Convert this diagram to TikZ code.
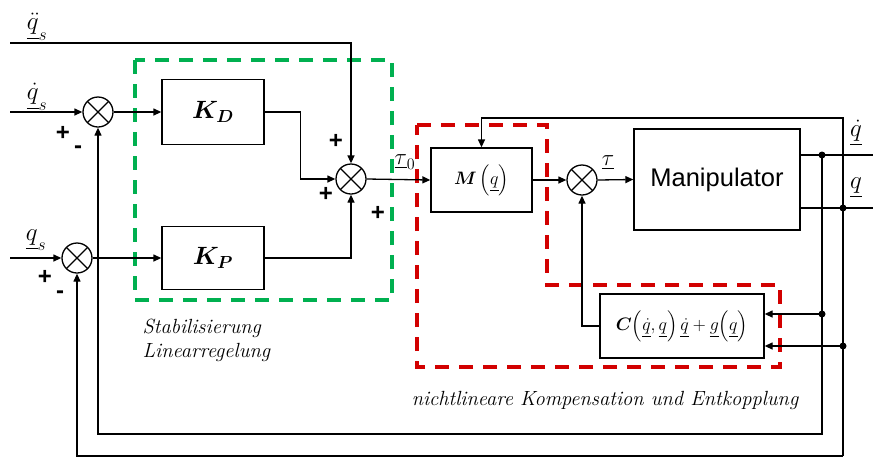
\RequirePackage{fix-cm}
\documentclass[tikz,border=0pt]{standalone}
\usepackage{amsmath,bm}
\usepackage{fontspec}
\newfontfamily\arialf{Liberation Sans}
\usetikzlibrary{arrows.meta,calc}
\definecolor{dgreen}{RGB}{0,176,80}
\definecolor{dred}{RGB}{210,0,0}
\tikzset{
  arr/.style={-{Triangle[length=8pt,width=7pt]}},
  blk/.style={draw, line width=1.3pt, inner sep=0pt, font=\fontsize{25}{28}\selectfont},
  sumn/.style={draw, circle, minimum size=30pt, inner sep=0pt, fill=white,
    path picture={\draw[line width=1.3pt] (path picture bounding box.center) ++(45:16pt) -- ++(225:32pt);
                  \draw[line width=1.3pt] (path picture bounding box.center) ++(135:16pt) -- ++(315:32pt);}},
  lbl/.style={font=\fontsize{25}{28}\selectfont, inner sep=0pt},
  pm/.style={font=\arialf\bfseries\fontsize{24}{28}\selectfont, inner sep=0pt},
  captxt/.style={font=\itshape\fontsize{20.5}{24}\selectfont, inner sep=0pt},
  gbox/.style={draw=dgreen, line width=3.5pt, dash pattern=on 14pt off 10pt},
  rbox/.style={draw=dred, line width=3.5pt, dash pattern=on 14pt off 10pt},
  dot/.style={fill, circle, inner sep=0pt, minimum size=7pt}
}
\begin{document}
\begin{tikzpicture}[x=1pt,y=-1pt,line width=1.3pt]
\useasboundingbox (0,0) rectangle (873,459);
% dashed regions
\draw[gbox] (135,60) rectangle (392,300);
\draw[rbox] (417,125) -- (547,125) -- (547,285) -- (780,285) -- (780,367) -- (417,367) -- cycle;
% sums
\node[sumn] (s1) at (98,112) {};
\node[sumn] (s2) at (77,258) {};
\node[sumn] (s3) at (351,179) {};
\node[sumn] (s4) at (582,180) {};
% blocks
\node[blk, minimum width=102pt, minimum height=65pt] (kd) at (213,112) {$\bm{K_D}$};
\node[blk, minimum width=102pt, minimum height=63pt] (kp) at (213,258) {$\bm{K_P}$};
\node[blk, minimum width=101pt, minimum height=64pt, font=\fontsize{18}{20}\selectfont] (m) at (481.5,180) {$\bm{M}\,\Bigl(\underline{q}\Bigr)$};
\node[blk, minimum width=166pt, minimum height=101pt, font=\arialf\fontsize{25.5}{30}\selectfont] (man) at (717,179.5) {Manipulator};
\node[blk, minimum width=164pt, minimum height=64pt, font=\fontsize{18}{22}\selectfont] (cg) at (682,326) {$\bm{C}\Bigl(\underline{\dot q},\underline{q}\Bigr)\,\underline{\dot q}+\underline{g}\Bigl(\underline{q}\Bigr)$};
% coordinates
\coordinate (qdds) at (10,43);
\coordinate (qds) at (10,112);
\coordinate (qs) at (10,258);
\coordinate (qdout) at (873,155);
\coordinate (qout) at (873,208);
\coordinate (d1) at (822,155);
\coordinate (d2) at (843,208);
\coordinate (d3) at (822,314);
\coordinate (d4) at (843,346);
\coordinate (b1) at (822,434);
\coordinate (b2) at (843,456);
\coordinate (t1) at (843,118);
% connectors
\draw[arr] (qdds) -| (s3.north);
\draw[arr] (qds) -- (s1.west);
\draw[arr] (qs) -- (s2.west);
\draw[arr] (s1.east) -- (kd.west);
\draw[arr] (s2.east) -- (kp.west);
\draw[arr] (kd.east) -- ++(36,0) |- (s3.west);
\draw[arr] (kp.east) -| (s3.south);
\draw[arr] (s3.east) -- (m.west);
\draw[arr] (m.east) -- (s4.west);
\draw[arr] (s4.east) -- (man.west);
\draw (man.east |- qdout) -- (qdout);
\draw (man.east |- qout) -- (qout);
\draw[arr] (d1) -- (b1) -| (s1.south);
\draw[arr] (b2) -| (s2.south);
\draw[arr] (b2) -- (t1) -| (m.north);
\draw[arr] (d3) -- (cg.east |- d3);
\draw[arr] (d4) -- (cg.east |- d4);
\draw[arr] (cg.west) -| (s4.south);
\node[dot] at (d1) {};
\node[dot] at (d2) {};
\node[dot] at (d3) {};
\node[dot] at (d4) {};
% labels
\node[lbl] (l1) at (37,27) {$\underline{\ddot q}_s$};
\node[lbl] (l2) at (37,97) {$\underline{\dot q}_s$};
\node[lbl] (l3) at (36,240) {$\underline{q}_s$};
\node[lbl, font=\fontsize{23}{26}\selectfont] (l4) at (405,162) {$\underline{\tau}_0$};
\node[lbl, font=\fontsize{23}{26}\selectfont] (l5) at (608,163) {$\underline{\tau}$};
\node[lbl] (l6) at (856,133) {$\underline{\dot q}$};
\node[lbl] (l7) at (856,188) {$\underline{q}$};
\node[pm] (p1) at (63,133) {+};
\node[pm] (p2) at (78,150) {-};
\node[pm] (p3) at (45,277) {+};
\node[pm] (p4) at (60,295) {-};
\node[pm] (p5) at (336,141) {+};
\node[pm] (p6) at (326,194) {+};
\node[pm] (p7) at (378,213) {+};
\node[captxt, anchor=west, align=left] (c1) at (142,340) {Stabilisierung\\Linearregelung};
\node[captxt] (c2) at (605,400) {nichtlineare Kompensation und Entkopplung};
\end{tikzpicture}
\end{document}
